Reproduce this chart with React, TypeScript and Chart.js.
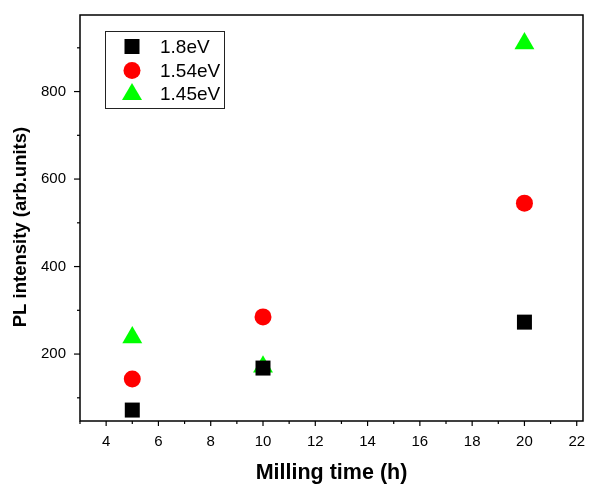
import React, { useEffect, useRef } from "react";
import { Chart, registerables } from "chart.js";

Chart.register(...registerables);

const millingTimes = [5, 10, 20];
const pl18 = [72, 168, 273];
const pl154 = [143, 285, 545];
const pl145 = [238, 171, 910];
const seriesLabels = ["1.8eV", "1.54eV", "1.45eV"];

const xMajorTicks = [4, 6, 8, 10, 12, 14, 16, 18, 20, 22];
const xMinorTicks = [3, 5, 7, 9, 11, 13, 15, 17, 19, 21];
const yMajorTicks = [200, 400, 600, 800];
const yMinorTicks = [100, 300, 500, 700, 900];

const FONT = "Arial, 'Liberation Sans', sans-serif";

const framePlugin = {
  id: "frameAndTicks",
  beforeDatasetsDraw(chart: any) {
    const { ctx, chartArea } = chart;
    const { left, right, top, bottom } = chartArea;
    ctx.save();
    ctx.strokeStyle = "#000";
    ctx.lineWidth = 1.5;
    ctx.strokeRect(left, top, right - left, bottom - top);
    ctx.lineWidth = 1.2;
    const xs = chart.scales.x;
    xs.ticks.forEach((t: any) => {
      const px = xs.getPixelForValue(t.value);
      const len = xMajorTicks.includes(t.value) ? 5 : 3;
      ctx.beginPath();
      ctx.moveTo(px, bottom);
      ctx.lineTo(px, bottom + len);
      ctx.stroke();
    });
    const ys = chart.scales.y;
    ys.ticks.forEach((t: any) => {
      const py = ys.getPixelForValue(t.value);
      const len = yMajorTicks.includes(t.value) ? 6 : 3;
      ctx.beginPath();
      ctx.moveTo(left, py);
      ctx.lineTo(left - len, py);
      ctx.stroke();
    });
    ctx.fillStyle = "#000";
    ctx.textAlign = "center";
    ctx.textBaseline = "middle";
    ctx.font = `bold 21.5px ${FONT}`;
    ctx.fillText("Milling time (h)", (left + right) / 2, 473);
    ctx.save();
    ctx.translate(21, 227);
    ctx.rotate(-Math.PI / 2);
    ctx.font = `bold 18.5px ${FONT}`;
    ctx.fillText("PL intensity (arb.units)", 0, 0);
    ctx.restore();
    ctx.restore();
  },
  afterDraw(chart: any) {
    const { ctx } = chart;
    ctx.save();
    ctx.strokeStyle = "#222";
    ctx.lineWidth = 1;
    ctx.strokeRect(105.5, 31.5, 119, 77);
    const rows = [46.5, 70.5, 94];
    const sx = 132;
    ctx.fillStyle = "#000000";
    ctx.fillRect(sx - 7.5, rows[0] - 7.5, 15, 15);
    ctx.fillStyle = "#ff0000";
    ctx.beginPath();
    ctx.arc(sx, rows[1], 8.5, 0, Math.PI * 2);
    ctx.fill();
    ctx.fillStyle = "#00ff00";
    ctx.beginPath();
    ctx.moveTo(sx, rows[2] - 11);
    ctx.lineTo(sx - 10, rows[2] + 6);
    ctx.lineTo(sx + 10, rows[2] + 6);
    ctx.closePath();
    ctx.fill();
    ctx.fillStyle = "#000";
    ctx.font = `19px ${FONT}`;
    ctx.textAlign = "left";
    ctx.textBaseline = "middle";
    seriesLabels.forEach((l, i) => ctx.fillText(l, 160, rows[i] + 1));
    ctx.restore();
  },
};

const zeroPad = (s: any) => {
  s.paddingLeft = 0;
  s.paddingRight = 0;
  s.paddingTop = 0;
  s.paddingBottom = 0;
};

export default function App() {
  const ref = useRef<HTMLCanvasElement | null>(null);
  useEffect(() => {
    if (!ref.current) return;
    const mk = (ys: number[]) => millingTimes.map((x, i) => ({ x, y: ys[i] }));
    const chart = new Chart(ref.current, {
      type: "scatter",
      data: {
        datasets: [
          {
            label: seriesLabels[0],
            data: mk(pl18),
            pointStyle: "rect",
            pointRadius: 10.6,
            pointHoverRadius: 10.6,
            backgroundColor: "#000000",
            borderWidth: 0,
          },
          {
            label: seriesLabels[1],
            data: mk(pl154),
            pointStyle: "circle",
            pointRadius: 8.5,
            pointHoverRadius: 8.5,
            backgroundColor: "#ff0000",
            borderWidth: 0,
          },
          {
            label: seriesLabels[2],
            data: mk(pl145),
            pointStyle: "triangle",
            pointRadius: 11.5,
            pointHoverRadius: 11.5,
            backgroundColor: "#00ff00",
            borderWidth: 0,
          },
        ],
      },
      options: {
        responsive: false,
        animation: false,
        layout: { autoPadding: false, padding: { top: 15, right: 6, left: 0, bottom: 0 } },
        plugins: { legend: { display: false }, tooltip: { enabled: false } },
        scales: {
          x: {
            type: "linear",
            min: 3,
            max: 22.24,
            grid: { display: false, drawTicks: false, tickLength: 0 },
            border: { display: false },
            afterBuildTicks: (s: any) => {
              s.ticks = [...xMinorTicks, ...xMajorTicks]
                .sort((a, b) => a - b)
                .map((v) => ({ value: v }));
            },
            afterFit: (s: any) => {
              s.height = 64;
              zeroPad(s);
            },
            ticks: {
              autoSkip: false,
              maxRotation: 0,
              padding: 12,
              color: "#000",
              font: { family: FONT, size: 15 },
              callback: (v: any) => (xMajorTicks.includes(v) ? String(v) : ""),
            },
          },
          y: {
            type: "linear",
            min: 47,
            max: 975,
            grid: { display: false, drawTicks: false, tickLength: 0 },
            border: { display: false },
            afterBuildTicks: (s: any) => {
              s.ticks = [...yMinorTicks, ...yMajorTicks]
                .sort((a, b) => a - b)
                .map((v) => ({ value: v }));
            },
            afterFit: (s: any) => {
              s.width = 80;
              zeroPad(s);
            },
            ticks: {
              autoSkip: false,
              padding: 14,
              color: "#000",
              font: { family: FONT, size: 15 },
              callback: (v: any) => (yMajorTicks.includes(v) ? String(v) : ""),
            },
          },
        },
      },
      plugins: [framePlugin],
    });
    return () => chart.destroy();
  }, []);
  return (
    <div style={{ position: "fixed", left: 0, top: 0, width: 589, height: 485, background: "#fff" }}>
      <canvas ref={ref} width={589} height={485} />
    </div>
  );
}
